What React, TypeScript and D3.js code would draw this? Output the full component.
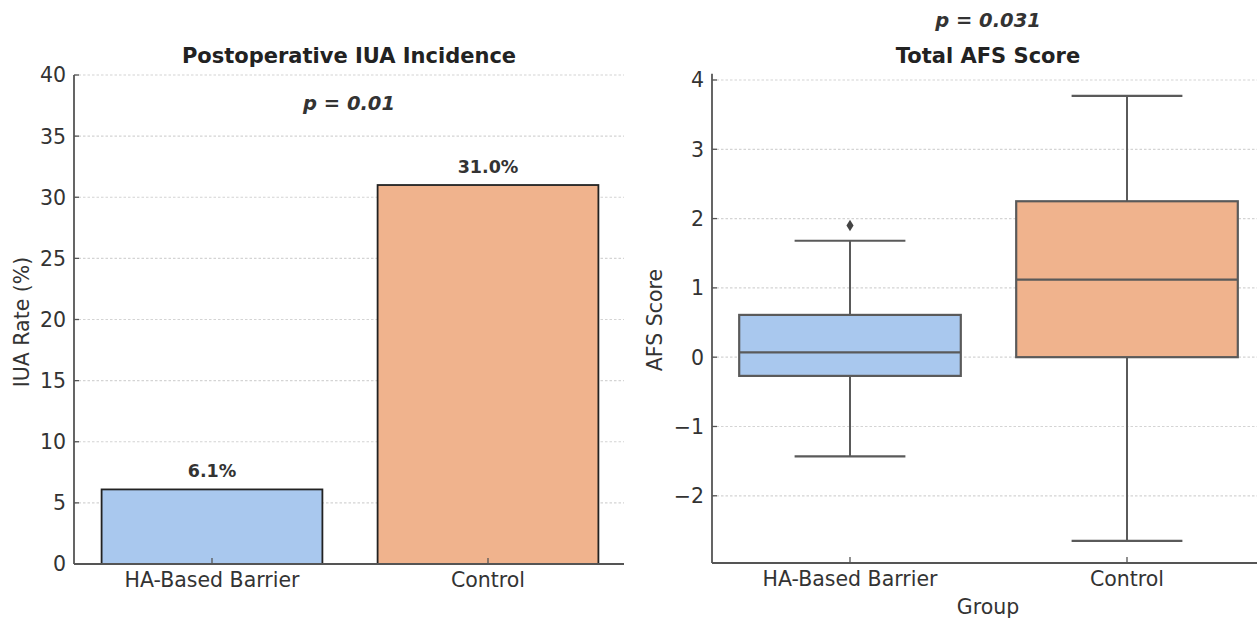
import { useEffect, useRef } from "react";
import * as d3 from "d3";

const groups = ["HA-Based Barrier", "Control"];
const iuaRates = [6.1, 31.0];
const iuaTicks = [0, 5, 10, 15, 20, 25, 30, 35, 40];
const pIua = "p = 0.01";

const afsWhiskerLow = [-1.43, -2.65];
const afsQ1 = [-0.27, 0.0];
const afsMedian = [0.07, 1.12];
const afsQ3 = [0.61, 2.25];
const afsWhiskerHigh = [1.68, 3.77];
const afsOutliers = [[1.9], []];
const afsTicks = [-2, -1, 0, 1, 2, 3, 4];
const pAfs = "p = 0.031";

const fills = ["#a9c8ee", "#f0b38d"];
const font = "DejaVu Sans, sans-serif";
const tickSize = 20.5;

function drawGrid(g, y, ticks, x0, x1) {
  ticks.forEach((t) => {
    g.append("line")
      .attr("x1", x0)
      .attr("x2", x1)
      .attr("y1", y(t))
      .attr("y2", y(t))
      .attr("stroke", "#d4d4d4")
      .attr("stroke-width", 1.2)
      .attr("stroke-dasharray", "2.5,2");
  });
}

function drawAxes(g, x, y, ticks, left, right, bottom, top, fmt) {
  g.append("line").attr("x1", left).attr("x2", left).attr("y1", top).attr("y2", bottom).attr("stroke", "#555").attr("stroke-width", 1.8);
  g.append("line").attr("x1", left).attr("x2", right).attr("y1", bottom).attr("y2", bottom).attr("stroke", "#555").attr("stroke-width", 1.8);
  ticks.forEach((t) => {
    g.append("line").attr("x1", left).attr("x2", left + 5).attr("y1", y(t)).attr("y2", y(t)).attr("stroke", "#555").attr("stroke-width", 1.3);
    g.append("text")
      .attr("x", left - 8)
      .attr("y", y(t))
      .attr("dy", "0.36em")
      .attr("text-anchor", "end")
      .attr("font-size", tickSize)
      .attr("fill", "#333")
      .text(fmt(t));
  });
  groups.forEach((d) => {
    const cx = x(d);
    g.append("line").attr("x1", cx).attr("x2", cx).attr("y1", bottom).attr("y2", bottom - 6).attr("stroke", "#555").attr("stroke-width", 1.3);
    g.append("text")
      .attr("x", cx)
      .attr("y", bottom + 23)
      .attr("text-anchor", "middle")
      .attr("font-size", tickSize)
      .attr("fill", "#333")
      .text(d);
  });
}

function render(svgEl) {
  const svg = d3.select(svgEl);
  svg.selectAll("*").remove();
  const root = svg.append("g").attr("font-family", font);

  // left panel: bars
  const L = { left: 74, right: 624, top: 75, bottom: 564 };
  const xb = d3.scalePoint().domain(groups).range([212, 488]);
  const bw = 0.8 * xb.step();
  const yb = d3.scaleLinear().domain([0, 40]).range([L.bottom, L.top]);
  const gl = root.append("g");
  drawGrid(gl, yb, iuaTicks.filter((t) => t > 0), L.left, L.right);

  groups.forEach((d, i) => {
    gl.append("rect")
      .attr("x", xb(d) - bw / 2)
      .attr("width", bw)
      .attr("y", yb(iuaRates[i]))
      .attr("height", yb(0) - yb(iuaRates[i]))
      .attr("fill", fills[i])
      .attr("stroke", "#222")
      .attr("stroke-width", 1.8);
    gl.append("text")
      .attr("x", xb(d))
      .attr("y", yb(iuaRates[i]) - 12)
      .attr("text-anchor", "middle")
      .attr("font-size", 17.5)
      .attr("font-weight", "bold")
      .attr("fill", "#333")
      .text(iuaRates[i].toFixed(1) + "%");
  });
  drawAxes(gl, xb, yb, iuaTicks, L.left, L.right, L.bottom, L.top, (t) => String(t));

  gl.append("text").attr("x", 349).attr("y", 63).attr("text-anchor", "middle").attr("font-size", 21).attr("font-weight", "bold").attr("fill", "#222").text("Postoperative IUA Incidence");
  gl.append("text").attr("x", 349).attr("y", 110).attr("text-anchor", "middle").attr("font-size", 19.5).attr("font-weight", "bold").attr("font-style", "italic").attr("fill", "#333").text(pIua);
  gl.append("text")
    .attr("transform", `translate(29,322) rotate(-90)`)
    .attr("text-anchor", "middle")
    .attr("font-size", tickSize)
    .attr("fill", "#333")
    .text("IUA Rate (%)");

  // right panel: boxes
  const R = { left: 712, right: 1266, bottom: 563 };
  const xr = d3.scalePoint().domain(groups).range([850, 1127]);
  const boxW = 0.8 * xr.step();
  const yr = d3.scaleLinear().domain([-2.97, 4.09]).range([R.bottom, R.bottom - 7.06 * 69.3]);
  const gr = root.append("g");
  drawGrid(gr, yr, afsTicks, R.left, R.right);

  const edge = "#5a5a5a";
  groups.forEach((d, i) => {
    const cx = xr(d);
    gr.append("line").attr("x1", cx).attr("x2", cx).attr("y1", yr(afsQ3[i])).attr("y2", yr(afsWhiskerHigh[i])).attr("stroke", edge).attr("stroke-width", 2);
    gr.append("line").attr("x1", cx).attr("x2", cx).attr("y1", yr(afsQ1[i])).attr("y2", yr(afsWhiskerLow[i])).attr("stroke", edge).attr("stroke-width", 2);
    [afsWhiskerHigh[i], afsWhiskerLow[i]].forEach((v) => {
      gr.append("line").attr("x1", cx - boxW / 4).attr("x2", cx + boxW / 4).attr("y1", yr(v)).attr("y2", yr(v)).attr("stroke", edge).attr("stroke-width", 2.2);
    });
    gr.append("rect")
      .attr("x", cx - boxW / 2)
      .attr("width", boxW)
      .attr("y", yr(afsQ3[i]))
      .attr("height", yr(afsQ1[i]) - yr(afsQ3[i]))
      .attr("fill", fills[i])
      .attr("stroke", edge)
      .attr("stroke-width", 2.2);
    gr.append("line").attr("x1", cx - boxW / 2).attr("x2", cx + boxW / 2).attr("y1", yr(afsMedian[i])).attr("y2", yr(afsMedian[i])).attr("stroke", edge).attr("stroke-width", 2.2);
    afsOutliers[i].forEach((v) => {
      gr.append("path")
        .attr("d", d3.symbol(d3.symbolDiamond2, 90)())
        .attr("transform", `translate(${cx},${yr(v)}) scale(0.6,0.95)`)
        .attr("fill", "#444");
    });
  });
  drawAxes(gr, xr, yr, afsTicks, R.left, R.right, R.bottom, yr(4.09), (t) => (t < 0 ? "\u2212" + Math.abs(t) : String(t)));

  gr.append("text").attr("x", 988).attr("y", 27).attr("text-anchor", "middle").attr("font-size", 19.5).attr("font-weight", "bold").attr("font-style", "italic").attr("fill", "#333").text(pAfs);
  gr.append("text").attr("x", 988).attr("y", 63).attr("text-anchor", "middle").attr("font-size", 21).attr("font-weight", "bold").attr("fill", "#222").text("Total AFS Score");
  gr.append("text")
    .attr("transform", `translate(662,320) rotate(-90)`)
    .attr("text-anchor", "middle")
    .attr("font-size", tickSize)
    .attr("fill", "#333")
    .text("AFS Score");
  gr.append("text").attr("x", 988).attr("y", 614).attr("text-anchor", "middle").attr("font-size", tickSize).attr("fill", "#333").text("Group");
}

export default function App() {
  const ref = useRef(null);
  useEffect(() => {
    if (ref.current) render(ref.current);
  }, []);
  return (
    <div style={{ position: "fixed", left: 0, top: 0, width: 1257, height: 620, background: "#fff" }}>
      <svg ref={ref} width={1257} height={620} style={{ display: "block" }} />
    </div>
  );
}
